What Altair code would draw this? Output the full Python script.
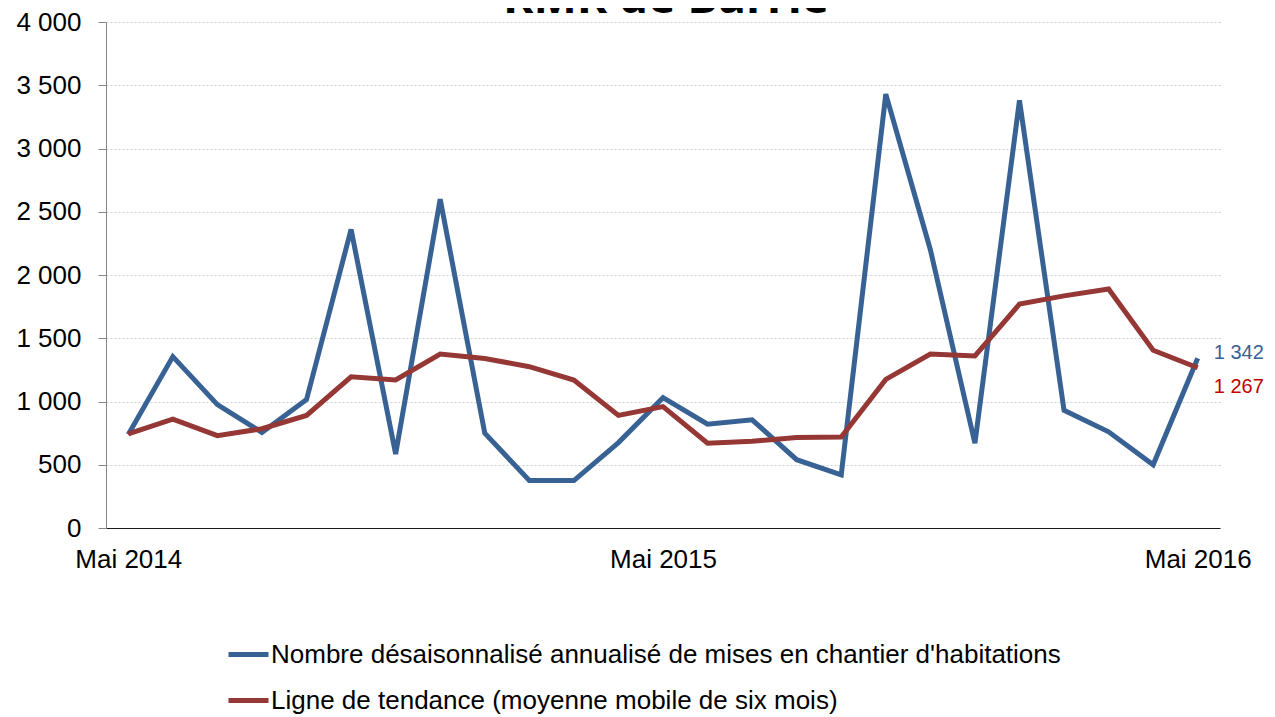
import altair as alt
import pandas as pd

title_text = "RMR de Barrie"
months = [
    "Mai 2014", "Juin 2014", "Juil. 2014", "Août 2014", "Sept. 2014", "Oct. 2014",
    "Nov. 2014", "Déc. 2014", "Janv. 2015", "Févr. 2015", "Mars 2015", "Avr. 2015",
    "Mai 2015", "Juin 2015", "Juil. 2015", "Août 2015", "Sept. 2015", "Oct. 2015",
    "Nov. 2015", "Déc. 2015", "Janv. 2016", "Févr. 2016", "Mars 2016", "Avr. 2016",
    "Mai 2016",
]
shown_months = ["Mai 2014", "Mai 2015", "Mai 2016"]
series_names = [
    "Nombre désaisonnalisé annualisé de mises en chantier d'habitations",
    "Ligne de tendance (moyenne mobile de six mois)",
]
starts = [740, 1355, 975, 755, 1015, 2360, 585, 2600, 750, 375, 375, 675,
          1030, 820, 855, 540, 420, 3430, 2200, 670, 3380, 930, 760, 500, 1342]
trend = [745, 860, 730, 785, 890, 1195, 1170, 1375, 1340, 1275, 1170, 890,
         960, 670, 685, 715, 720, 1175, 1375, 1360, 1770, 1835, 1890, 1405, 1267]
y_ticks = [0, 500, 1000, 1500, 2000, 2500, 3000, 3500, 4000]

line_colors = ["#386194", "#953735"]
label_colors = ["#386194", "#C00000"]

rows = []
for name, vals in zip(series_names, [starts, trend]):
    for m, v in zip(months, vals):
        rows.append({"month": m, "series": name, "value": v})
df = pd.DataFrame(rows)

W, H = 1114, 506
FONT = "Liberation Sans"
FS = 26

x_enc = alt.X(
    "month:O", sort=months,
    scale=alt.Scale(type="point", padding=0.5),
    axis=alt.Axis(
        title=None, labelAngle=0, ticks=False, tickSize=0,
        labelExpr="indexof(" + str(shown_months) + ", datum.value) >= 0 ? datum.value : ''",
        labelFont=FONT, labelFontSize=FS, labelColor="#000000", labelPadding=18,
        domainColor="#1a1a1a", domainWidth=1, grid=False, labelOverlap=False,
    ),
)
y_enc = alt.Y(
    "value:Q",
    scale=alt.Scale(domain=[0, 4000], nice=False),
    axis=alt.Axis(
        title=None, values=y_ticks,
        labelExpr="replace(format(datum.value, ','), ',', ' ')",
        labelFont=FONT, labelFontSize=FS, labelColor="#000000", labelPadding=17,
        domainColor="#868686", tickColor="#868686", tickSize=8,
        grid=True, gridColor="#CFCFCF", gridDash=[2, 2], gridWidth=1,
    ),
)

lines = alt.Chart(df).mark_line(strokeWidth=5).encode(
    x=x_enc,
    y=y_enc,
    color=alt.Color(
        "series:N", sort=series_names,
        scale=alt.Scale(domain=series_names, range=line_colors),
        legend=alt.Legend(
            title=None, orient="none", legendX=120, legendY=610, direction="vertical",
            symbolType="stroke", symbolSize=1600, symbolStrokeWidth=5,
            labelFont=FONT, labelFontSize=FS, labelColor="#000000",
            labelOffset=0, rowPadding=10, padding=0, labelLimit=1200,
        ),
    ),
)

last = months[-1]
lab_blue = alt.Chart(df).transform_filter(
    (alt.datum.month == last) & (alt.datum.series == series_names[0])
).transform_calculate(
    txt="replace(format(datum.value, ','), ',', ' ')"
).mark_text(align="left", baseline="middle", dx=16, dy=-5, font=FONT, fontSize=20,
            color=label_colors[0]).encode(
    x=alt.X("month:O", sort=months), y="value:Q", text="txt:N")

lab_red = alt.Chart(df).transform_filter(
    (alt.datum.month == last) & (alt.datum.series == series_names[1])
).transform_calculate(
    txt="replace(format(datum.value, ','), ',', ' ')"
).mark_text(align="left", baseline="middle", dx=16, dy=19, font=FONT, fontSize=20,
            color=label_colors[1]).encode(
    x=alt.X("month:O", sort=months), y="value:Q", text="txt:N")

title = alt.Chart(pd.DataFrame({"t": [title_text]})).mark_text(
    font="Open Sans", fontWeight="bold", fontSize=46, align="center",
    baseline="alphabetic", color="#000000",
).encode(text="t:N", x=alt.value(W / 2 + 3), y=alt.value(-9))

chart = alt.layer(lines, lab_blue, lab_red, title).properties(
    width=W, height=H,
    autosize=alt.AutoSizeParams(type="none"),
    padding={"left": 98, "top": 14, "right": 47, "bottom": 189},
).configure_view(stroke=None)

chart.save("out.html", embed_options={"renderer": "svg", "actions": False})
